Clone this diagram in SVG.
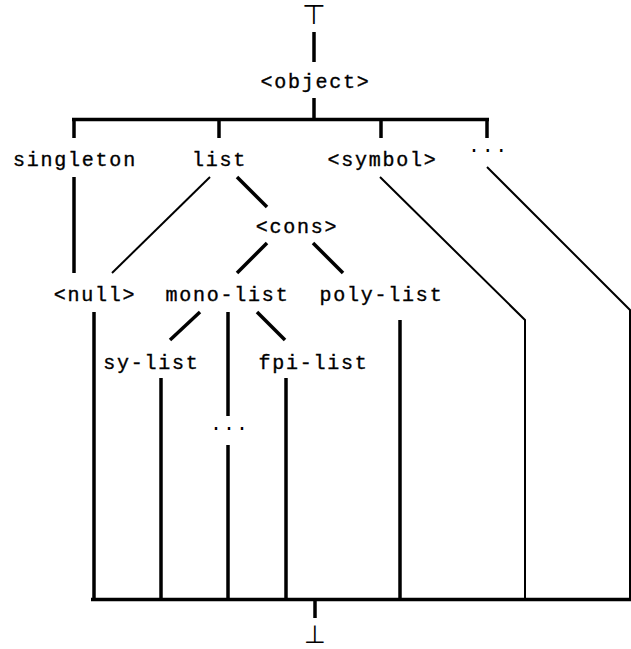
<svg xmlns="http://www.w3.org/2000/svg" width="631" height="649" viewBox="0 0 631 649">
<style>
text{font-family:"Liberation Mono","DejaVu Sans Mono",monospace;font-size:20px;letter-spacing:1.75px;fill:#000;stroke:#000;stroke-width:0.35;text-anchor:middle}
.sym{font-family:"DejaVu Sans",sans-serif;font-size:27px;letter-spacing:0;stroke:none;fill:#000}
.k{stroke:#000;stroke-width:3.5;fill:none;stroke-linecap:butt}
.t{stroke:#000;stroke-width:2;fill:none;stroke-linejoin:miter}
</style>
<rect width="631" height="649" fill="#fff"/>
<g id="connectors">
<line class="k" x1="314" y1="32" x2="314" y2="62"/>
<line class="k" x1="314" y1="98" x2="314" y2="120"/>
<line class="k" x1="72" y1="119.5" x2="489" y2="119.5"/>
<line class="k" x1="74" y1="118" x2="74" y2="138"/>
<line class="k" x1="219" y1="118" x2="219" y2="138"/>
<line class="k" x1="381" y1="118" x2="381" y2="138"/>
<line class="k" x1="487" y1="118" x2="487" y2="138"/>
<line class="k" x1="74" y1="177" x2="74" y2="273"/>
<line class="t" x1="210" y1="177" x2="112" y2="273"/>
<line class="k" x1="237" y1="177" x2="267" y2="207"/>
<line class="k" x1="267" y1="243" x2="237" y2="273"/>
<line class="k" x1="313" y1="243" x2="343" y2="273"/>
<polyline class="t" points="380,177 525,320 525,600"/>
<polyline class="t" points="487,167 630,310 630,600"/>
<line class="k" x1="94" y1="312" x2="94" y2="600"/>
<line class="k" x1="400" y1="320" x2="400" y2="600"/>
<line class="k" x1="200" y1="312" x2="170" y2="340"/>
<line class="k" x1="257" y1="312" x2="285" y2="340"/>
<line class="k" x1="228" y1="312" x2="228" y2="416"/>
<line class="k" x1="228" y1="445" x2="228" y2="600"/>
<line class="k" x1="161" y1="378" x2="161" y2="600"/>
<line class="k" x1="286" y1="378" x2="286" y2="600"/>
<line class="k" x1="91" y1="599.5" x2="631" y2="599.5"/>
<line class="k" x1="315" y1="599" x2="315" y2="618"/>
</g>
<g id="top"><text class="sym" x="314" y="24">⊤</text></g>
<g id="object"><text x="315.5" y="88">&lt;object&gt;</text></g>
<g id="singleton"><text x="75" y="166">singleton</text></g>
<g id="list"><text x="219.5" y="166">list</text></g>
<g id="symbol"><text x="382.5" y="166">&lt;symbol&gt;</text></g>
<g id="more1"><text x="488.5" y="152" style="letter-spacing:1.7px;stroke:none">...</text></g>
<g id="cons"><text x="297" y="233">&lt;cons&gt;</text></g>
<g id="null"><text x="95" y="301">&lt;null&gt;</text></g>
<g id="mono-list"><text x="227.5" y="301">mono-list</text></g>
<g id="poly-list"><text x="381.5" y="301">poly-list</text></g>
<g id="sy-list"><text x="151.5" y="369">sy-list</text></g>
<g id="fpi-list"><text x="313.5" y="369">fpi-list</text></g>
<g id="more2"><text x="229.5" y="430" style="letter-spacing:1px;stroke:none">...</text></g>
<g id="bottom"><text class="sym" x="315" y="643" style="font-size:25px">⊥</text></g>
</svg>
